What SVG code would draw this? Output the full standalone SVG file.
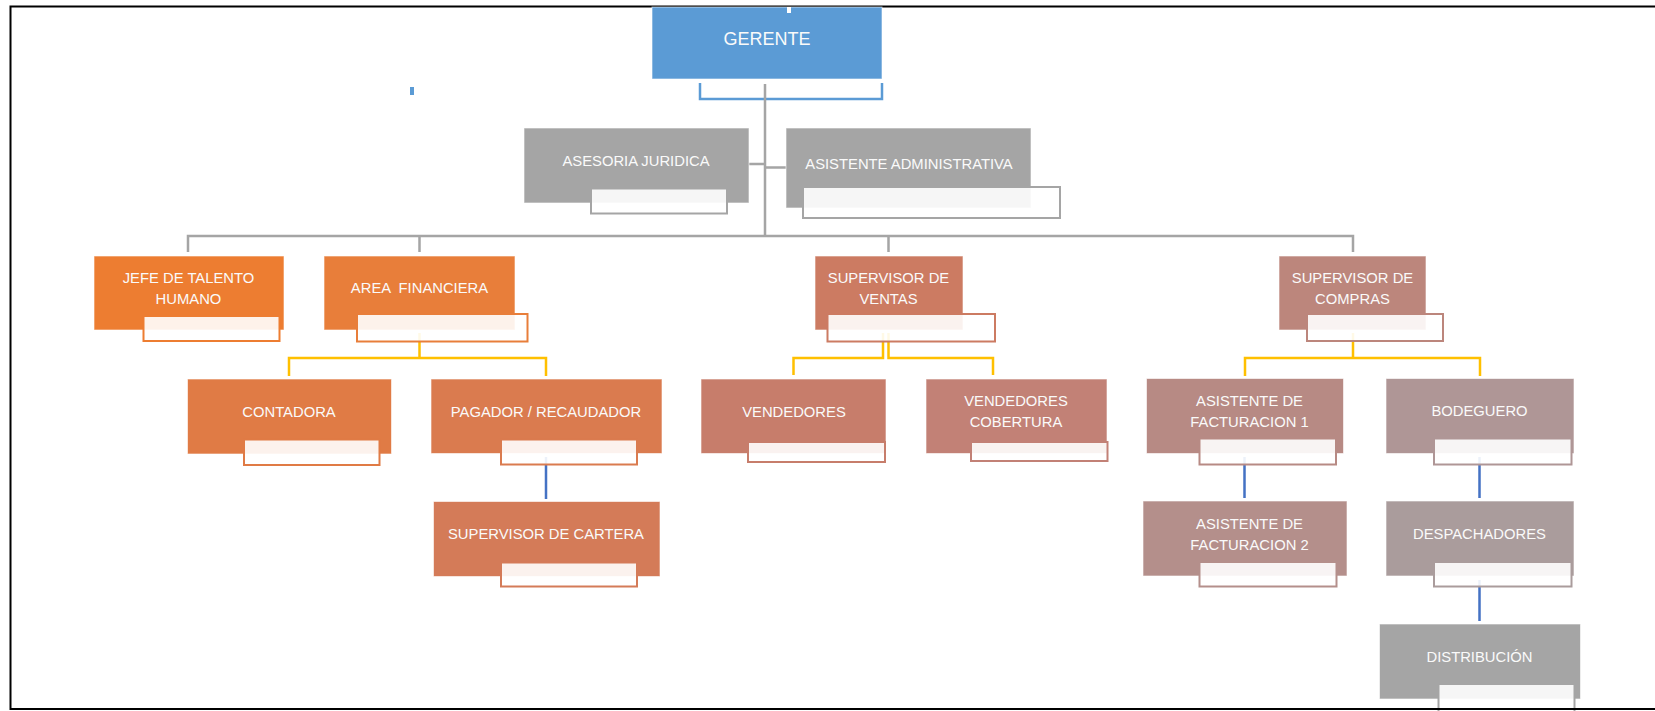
<svg xmlns="http://www.w3.org/2000/svg" width="1655" height="711" viewBox="0 0 1655 711">
<style>
.lbl{font-family:"Liberation Sans",Arial,sans-serif;font-size:14.8px;fill:#FAFAFA;text-anchor:middle}
.big{font-size:18px}
.node{stroke:#ffffff;stroke-opacity:0.6;stroke-width:1}
.sub{fill:#ffffff;fill-opacity:0.9;stroke-width:2}
.c{fill:none;stroke-width:2.5}
.gray{stroke:#A5A5A5}
.yel{stroke:#FFC000}
.blu{stroke:#4472C4}
.sky{stroke:#5B9BD5}
.frame{fill:none;stroke:#000;stroke-width:2}
</style>
<rect x="0" y="0" width="1655" height="711" fill="#ffffff"/>
<g id="connectors">
  <path class="c sky" d="M700,83 V99 H882 V83"/>
  <path class="c gray" d="M765,84 V237 M749,164 H765 M765,167.5 H786"/>
  <path class="c gray" d="M188,252 V236 H1353 V252 M419.5,236 V252 M888.5,236 V252"/>
  <path class="c yel" d="M419.5,333 V358 M289,376 V358 H546 V376"/>
  <path class="c yel" d="M883,333 V358 H793.5 V375 M888.5,333 V358 H993 V375"/>
  <path class="c yel" d="M1353,333 V358 M1245,376 V358 H1480 V376"/>
  <path class="c blu" d="M546,457 V499 M1244.5,457 V498 M1479.5,457 V498 M1479.5,580 V621"/>
</g>
<g id="frame">
  <path class="frame" d="M1655,6.5 H10.5 V709 H1655"/>
</g>
<rect x="410" y="87" width="4" height="8" fill="#5B9BD5"/>
<g id="gerente">
  <rect class="node" x="652" y="7" width="230" height="72" fill="#5B9BD5"/>
  <rect x="787" y="7" width="4" height="6" fill="#ffffff"/>
  <text class="lbl big" x="767" y="45">GERENTE</text>
</g>
<g id="asesoria">
  <rect class="node" x="524" y="128" width="225" height="75" fill="#A5A5A5"/>
  <rect class="sub" x="591" y="188.5" width="136" height="25" stroke="#A5A5A5"/>
  <text class="lbl" x="636" y="165.5">ASESORIA JURIDICA</text>
</g>
<g id="asistente-admin">
  <rect class="node" x="786" y="128" width="245" height="80" fill="#A5A5A5"/>
  <rect class="sub" x="803" y="187" width="257" height="31" stroke="#A5A5A5"/>
  <text class="lbl" x="909" y="169">ASISTENTE ADMINISTRATIVA</text>
</g>
<g id="jefe-talento">
  <rect class="node" x="94" y="256" width="190" height="74" fill="#ED7D31"/>
  <rect class="sub" x="143.5" y="316" width="136" height="25" stroke="#ED7D31"/>
  <text class="lbl" x="188.5" y="283.3">JEFE DE TALENTO</text>
  <text class="lbl" x="188.5" y="304">HUMANO</text>
</g>
<g id="area-financiera">
  <rect class="node" x="324" y="256" width="191" height="74" fill="#E87E3A"/>
  <rect class="sub" x="357" y="314" width="170.5" height="27.5" stroke="#E87E3A"/>
  <text class="lbl" x="419.5" y="293.3" xml:space="preserve">AREA  FINANCIERA</text>
</g>
<g id="contadora">
  <rect class="node" x="187.5" y="379" width="204" height="75" fill="#E07B45"/>
  <rect class="sub" x="244" y="439.5" width="135.5" height="25.5" stroke="#E07B45"/>
  <text class="lbl" x="289" y="416.7">CONTADORA</text>
</g>
<g id="pagador">
  <rect class="node" x="431" y="379" width="231" height="74.5" fill="#DA7B4F"/>
  <rect class="sub" x="501" y="439.5" width="136" height="25" stroke="#DA7B4F"/>
  <text class="lbl" x="546" y="416.7">PAGADOR / RECAUDADOR</text>
</g>
<g id="supervisor-cartera">
  <rect class="node" x="433.5" y="501.5" width="226.5" height="75" fill="#D47B58"/>
  <rect class="sub" x="501" y="562.5" width="136" height="24" stroke="#D47B58"/>
  <text class="lbl" x="546" y="539.3">SUPERVISOR DE CARTERA</text>
</g>
<g id="supervisor-ventas">
  <rect class="node" x="815" y="256" width="148" height="74" fill="#CC7B62"/>
  <rect class="sub" x="827.5" y="314" width="167.5" height="27.5" stroke="#CC7B62"/>
  <text class="lbl" x="888.5" y="283.3">SUPERVISOR DE</text>
  <text class="lbl" x="888.5" y="304">VENTAS</text>
</g>
<g id="vendedores">
  <rect class="node" x="701" y="379" width="185" height="74.5" fill="#C77D6B"/>
  <rect class="sub" x="748" y="442" width="137" height="20" stroke="#C77D6B"/>
  <text class="lbl" x="794" y="416.7">VENDEDORES</text>
</g>
<g id="vendedores-cobertura">
  <rect class="node" x="926" y="379" width="181" height="74.5" fill="#C28176"/>
  <rect class="sub" x="971" y="442" width="136.5" height="19" stroke="#C28176"/>
  <text class="lbl" x="1016" y="405.7">VENDEDORES</text>
  <text class="lbl" x="1016" y="426.7">COBERTURA</text>
</g>
<g id="supervisor-compras">
  <rect class="node" x="1279" y="256" width="147" height="74" fill="#BC867C"/>
  <rect class="sub" x="1307" y="314" width="136" height="27" stroke="#BC867C"/>
  <text class="lbl" x="1352.5" y="283.3">SUPERVISOR DE</text>
  <text class="lbl" x="1352.5" y="304">COMPRAS</text>
</g>
<g id="asistente-facturacion-1">
  <rect class="node" x="1146.5" y="378.5" width="197" height="75" fill="#B78A84"/>
  <rect class="sub" x="1199.5" y="438.5" width="136.5" height="26" stroke="#B78A84"/>
  <text class="lbl" x="1249.5" y="406">ASISTENTE DE</text>
  <text class="lbl" x="1249.5" y="427.3">FACTURACION 1</text>
</g>
<g id="bodeguero">
  <rect class="node" x="1386" y="378.5" width="188" height="75" fill="#AF9696"/>
  <rect class="sub" x="1434" y="438.5" width="137.5" height="26" stroke="#AF9696"/>
  <text class="lbl" x="1479.5" y="416">BODEGUERO</text>
</g>
<g id="asistente-facturacion-2">
  <rect class="node" x="1143" y="501" width="204" height="75" fill="#B48F8B"/>
  <rect class="sub" x="1199.5" y="562" width="137" height="24.5" stroke="#B48F8B"/>
  <text class="lbl" x="1249.5" y="529">ASISTENTE DE</text>
  <text class="lbl" x="1249.5" y="550">FACTURACION 2</text>
</g>
<g id="despachadores">
  <rect class="node" x="1386" y="501" width="188" height="75" fill="#AA9C9C"/>
  <rect class="sub" x="1434" y="562" width="137.5" height="24.5" stroke="#AA9C9C"/>
  <text class="lbl" x="1479.5" y="539">DESPACHADORES</text>
</g>
<g id="distribucion">
  <rect class="node" x="1379.5" y="624" width="201" height="75" fill="#A5A5A5"/>
  <rect class="sub" x="1438.5" y="684" width="136" height="30" stroke="#A5A5A5"/>
  <text class="lbl" x="1479.5" y="661.7">DISTRIBUCIÓN</text>
</g>
<path class="frame" d="M10,709 H1655"/>
</svg>
